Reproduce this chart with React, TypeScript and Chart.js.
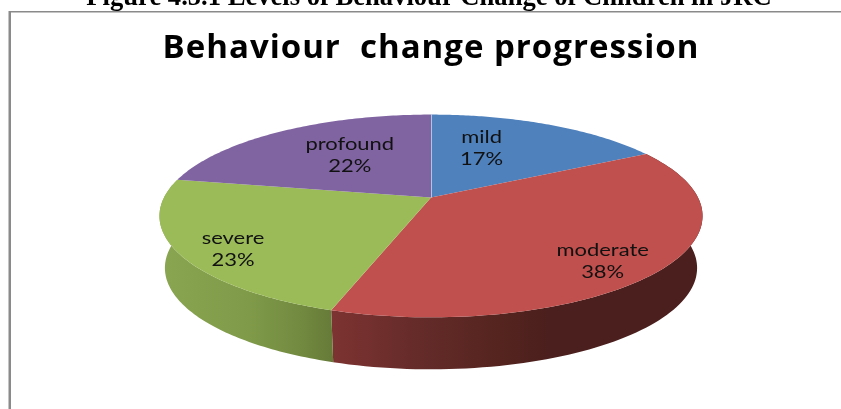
import React, { useEffect, useRef } from "react";
import { Chart, registerables } from "chart.js";

Chart.register(...registerables);

const categories = ["mild", "moderate", "severe", "profound"];
const values = [17, 38, 23, 22];
const percentLabels = ["17%", "38%", "23%", "22%"];
const topColors = ["#4f81bd", "#c0504d", "#9bbb59", "#8064a2"];
const chartTitle = "Behaviour  change progression";
const caption = "Figure 4.5.1 Levels of Behaviour Change of Children in JRC";

// Perspective of the tilted pie
const RX = 267;
const RY = 98;
const PERSP = 0.182;
const DEPTH = 52;
const BOTTOM_SHRINK = 0.98;
const LABEL_FRACTION = 0.6;
const labelNudges = [
  [-24, -3],
  [39, 23],
  [-52, 20],
  [13, -1],
];
const wallStops: Record<number, [number, string][]> = {
  1: [
    [331, "#7d3331"],
    [420, "#642b29"],
    [500, "#55241f"],
    [548, "#4b1f1d"],
    [705, "#4b1f1d"],
  ],
  2: [
    [158, "#8ba651"],
    [250, "#7f9a49"],
    [300, "#728a40"],
    [332, "#667b38"],
  ],
};

function project(cx: number, cy: number, angle: number, f = 1, scale = 1, dy = 0) {
  const u = Math.cos(angle) * f;
  const v = Math.sin(angle) * f;
  const w = 1 - PERSP * v;
  return { x: cx + (RX * scale * u) / w, y: cy + (RY * v) / w + dy };
}

const perspectivePie = {
  id: "perspectivePie",
  beforeDraw(chart: any) {
    chart.ctx.letterSpacing = "1px";
  },
  beforeDatasetsDraw(chart: any) {
    const ctx = chart.ctx;
    ctx.letterSpacing = "0px";
    const arcs = chart.getDatasetMeta(0).data;
    const steps = 90;
    // side walls
    arcs.forEach((arc: any, i: number) => {
      const stops = wallStops[i];
      if (!stops) return;
      const x0 = stops[0][0];
      const x1 = stops[stops.length - 1][0];
      const g = ctx.createLinearGradient(x0, 0, x1, 0);
      stops.forEach(([x, c]) => g.addColorStop((x - x0) / (x1 - x0), c));
      ctx.fillStyle = g;
      ctx.beginPath();
      for (let s = 0; s <= steps; s++) {
        const a = arc.startAngle + ((arc.endAngle - arc.startAngle) * s) / steps;
        const p = project(arc.x, arc.y, a);
        if (s === 0) ctx.moveTo(p.x, p.y);
        else ctx.lineTo(p.x, p.y);
      }
      for (let s = steps; s >= 0; s--) {
        const a = arc.startAngle + ((arc.endAngle - arc.startAngle) * s) / steps;
        const p = project(arc.x, arc.y, a, 1, BOTTOM_SHRINK, DEPTH);
        ctx.lineTo(p.x, p.y);
      }
      ctx.closePath();
      ctx.fill();
    });
    // top face
    arcs.forEach((arc: any, i: number) => {
      ctx.fillStyle = topColors[i];
      ctx.beginPath();
      ctx.moveTo(arc.x, arc.y);
      for (let s = 0; s <= steps; s++) {
        const a = arc.startAngle + ((arc.endAngle - arc.startAngle) * s) / steps;
        const p = project(arc.x, arc.y, a);
        ctx.lineTo(p.x, p.y);
      }
      ctx.closePath();
      ctx.fill();
    });
    // faint seam at twelve o'clock
    const first = arcs[0];
    const top = project(first.x, first.y, first.startAngle);
    ctx.strokeStyle = "rgba(255,255,255,0.55)";
    ctx.lineWidth = 1;
    ctx.beginPath();
    ctx.moveTo(first.x + 0.5, first.y);
    ctx.lineTo(top.x + 0.5, top.y);
    ctx.stroke();
    return false;
  },
  afterDraw(chart: any) {
    const ctx = chart.ctx;
    const arcs = chart.getDatasetMeta(0).data;
    ctx.save();
    ctx.letterSpacing = "0px";
    // labels
    ctx.fillStyle = "#111";
    ctx.font = "18px Lato";
    ctx.textAlign = "center";
    ctx.textBaseline = "middle";
    arcs.forEach((arc: any, i: number) => {
      const mid = (arc.startAngle + arc.endAngle) / 2;
      const p = project(arc.x, arc.y, mid, LABEL_FRACTION);
      const x = p.x + labelNudges[i][0];
      const y = p.y + labelNudges[i][1];
      ctx.save();
      ctx.translate(x, y);
      ctx.scale(1.22, 1);
      ctx.fillText(categories[i], 0, -11);
      ctx.fillText(percentLabels[i], 0, 11);
      ctx.restore();
    });
    // clipped caption above the document frame
    ctx.fillStyle = "#000";
    ctx.font = "bold 26.6px 'Liberation Serif'";
    ctx.textAlign = "center";
    ctx.textBaseline = "alphabetic";
    ctx.fillText(caption, 429, 5);
    ctx.fillStyle = "#fff";
    ctx.fillRect(0, 11, 841, 1);
    ctx.fillStyle = "#8a8a8a";
    ctx.fillRect(9, 11, 832, 1.5);
    ctx.fillRect(8.5, 11, 2.5, 398);
    ctx.restore();
  },
};

export default function App() {
  const ref = useRef<HTMLCanvasElement>(null);
  useEffect(() => {
    const chart = new Chart(ref.current!, {
      type: "pie",
      data: {
        labels: categories,
        datasets: [{ data: values, backgroundColor: topColors, borderWidth: 0 }],
      },
      options: {
        animation: false,
        responsive: false,
        events: [],
        layout: { padding: { left: 21, right: 0, top: 29, bottom: 83 } },
        plugins: {
          legend: { display: false },
          tooltip: { enabled: false },
          title: {
            display: true,
            text: chartTitle,
            color: "#000",
            font: { family: "'Open Sans'", size: 33, weight: "bold", lineHeight: 1.2 },
            padding: { top: 0, bottom: 0.4 },
          },
        },
      },
      plugins: [perspectivePie],
    } as any);
    return () => chart.destroy();
  }, []);
  return (
    <div style={{ position: "fixed", left: 0, top: 0 }}>
      <canvas ref={ref} width={841} height={409} style={{ display: "block" }} />
    </div>
  );
}
